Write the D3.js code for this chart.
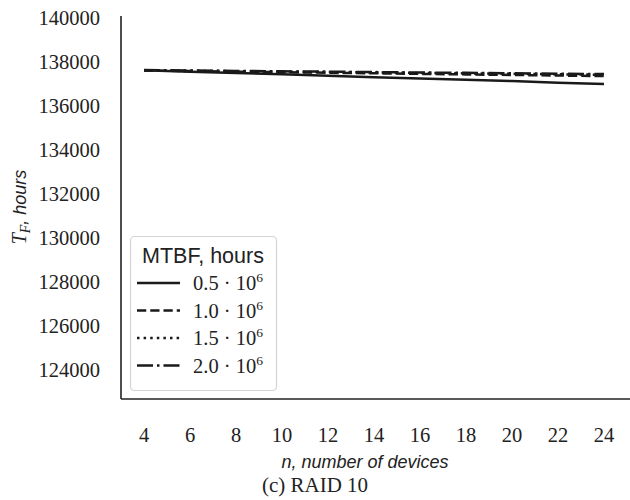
<!DOCTYPE html>
<html>
<head>
<meta charset="utf-8">
<script src="https://cdn.jsdelivr.net/npm/d3@7"></script>
<style>
  body { margin: 0; background: #fff; }
  svg { display: block; }
</style>
</head>
<body>
<div id="chart"></div>
<script>
const width = 630;
const height = 500;

// number of devices
const devices = [4, 6, 8, 10, 12, 14, 16, 18, 20, 22, 24];

// T_F in hours, one array per MTBF
const mtbf05 = [137620, 137560, 137500, 137440, 137370, 137310, 137250, 137190, 137130, 137060, 137000];
const mtbf10 = [137610, 137585, 137560, 137535, 137510, 137485, 137460, 137435, 137410, 137385, 137360];
const mtbf15 = [137620, 137600, 137580, 137560, 137540, 137520, 137500, 137480, 137460, 137440, 137420];
const mtbf20 = [137630, 137610, 137595, 137575, 137560, 137540, 137520, 137505, 137485, 137470, 137450];

const seriesLabels = ['0.5', '1.0', '1.5', '2.0'];
const yTicks = [124000, 126000, 128000, 130000, 132000, 134000, 136000, 138000, 140000];
const xTicks = [4, 6, 8, 10, 12, 14, 16, 18, 20, 22, 24];

const series = [mtbf05, mtbf10, mtbf15, mtbf20];
const dashes = [null, '9.25,4', '2.5,4.1', '16,4,2.5,4'];

const margin = { left: 121, right: 0, top: 16, bottom: 101 };

const svg = d3.select('#chart')
    .append('svg')
    .attr('width', width)
    .attr('height', height);

const x = d3.scaleLinear()
    .domain([3, 25])
    .range([121, 627]);

const y = d3.scaleLinear()
    .domain([122680, 140090])
    .range([height - margin.bottom, margin.top]);

const serif = "'Liberation Serif', 'DejaVu Serif', serif";
const sans = "'Liberation Sans', 'DejaVu Sans', sans-serif";

// tick labels
svg.selectAll('.ytick')
    .data(yTicks)
    .enter().append('text')
    .attr('x', 100)
    .attr('y', d => y(d))
    .attr('dy', '0.35em')
    .attr('text-anchor', 'end')
    .attr('font-family', serif)
    .attr('font-size', 20.5)
    .attr('fill', '#222')
    .text(d => d);

svg.selectAll('.xtick')
    .data(xTicks)
    .enter().append('text')
    .attr('x', d => x(d))
    .attr('y', 435)
    .attr('dy', '0.35em')
    .attr('text-anchor', 'middle')
    .attr('font-family', serif)
    .attr('font-size', 20.5)
    .attr('fill', '#222')
    .text(d => d);

// lines
const line = d3.line()
    .x((d, i) => x(devices[i]))
    .y(d => y(d));

svg.selectAll('.series')
    .data(series)
    .enter().append('path')
    .attr('d', d => line(d))
    .attr('fill', 'none')
    .attr('stroke', '#1a1a1a')
    .attr('stroke-width', 2.5)
    .attr('stroke-dasharray', (d, i) => dashes[i]);

// spines
svg.append('line')
    .attr('x1', 121).attr('x2', 121)
    .attr('y1', margin.top).attr('y2', height - margin.bottom)
    .attr('stroke', '#222').attr('stroke-width', 1.6);
svg.append('line')
    .attr('x1', 121).attr('x2', width)
    .attr('y1', height - margin.bottom).attr('y2', height - margin.bottom)
    .attr('stroke', '#222').attr('stroke-width', 1.6);

// axis labels
svg.append('text')
    .attr('x', 365)
    .attr('y', 462)
    .attr('dy', '0.35em')
    .attr('text-anchor', 'middle')
    .attr('font-family', sans)
    .attr('font-style', 'italic')
    .attr('font-size', 18)
    .attr('fill', '#222')
    .text('n, number of devices');

const ylab = svg.append('text')
    .attr('transform', 'translate(20,207) rotate(-90)')
    .attr('dy', '0.35em')
    .attr('text-anchor', 'middle')
    .attr('font-size', 18)
    .attr('fill', '#222');
ylab.append('tspan')
    .attr('font-family', serif)
    .attr('font-style', 'italic')
    .attr('font-size', 20)
    .text('T');
ylab.append('tspan')
    .attr('font-family', serif)
    .attr('font-style', 'italic')
    .attr('font-size', 14)
    .attr('dy', 4)
    .text('F');
ylab.append('tspan')
    .attr('font-family', sans)
    .attr('font-style', 'italic')
    .attr('dy', -4)
    .text(', hours');

// caption
svg.append('text')
    .attr('x', 315)
    .attr('y', 485)
    .attr('dy', '0.35em')
    .attr('text-anchor', 'middle')
    .attr('font-family', serif)
    .attr('font-size', 21)
    .attr('fill', '#222')
    .text('(c) RAID 10');

// legend
const legend = svg.append('g');
legend.append('rect')
    .attr('x', 130.5).attr('y', 236.5)
    .attr('width', 146).attr('height', 154)
    .attr('rx', 4)
    .attr('fill', '#fff')
    .attr('stroke', '#d4d4d4')
    .attr('stroke-width', 1.2);
legend.append('text')
    .attr('x', 203)
    .attr('y', 255)
    .attr('dy', '0.35em')
    .attr('text-anchor', 'middle')
    .attr('font-family', sans)
    .attr('font-size', 21.5)
    .attr('fill', '#222')
    .text('MTBF, hours');

const rows = legend.selectAll('.row')
    .data(seriesLabels)
    .enter().append('g')
    .attr('transform', (d, i) => `translate(0,${283 + i * 27.5})`);
rows.append('line')
    .attr('x1', 137).attr('x2', 180)
    .attr('stroke', '#1a1a1a')
    .attr('stroke-width', 2.5)
    .attr('stroke-dasharray', (d, i) => dashes[i]);
const lt = rows.append('text')
    .attr('x', 193)
    .attr('dy', '0.35em')
    .attr('font-family', serif)
    .attr('font-size', 20.5)
    .attr('fill', '#222');
lt.append('tspan').text(d => d + ' \u00b7 10');
lt.append('tspan')
    .attr('font-size', 13.5)
    .attr('dy', -8)
    .text('6');
</script>
</body>
</html>
